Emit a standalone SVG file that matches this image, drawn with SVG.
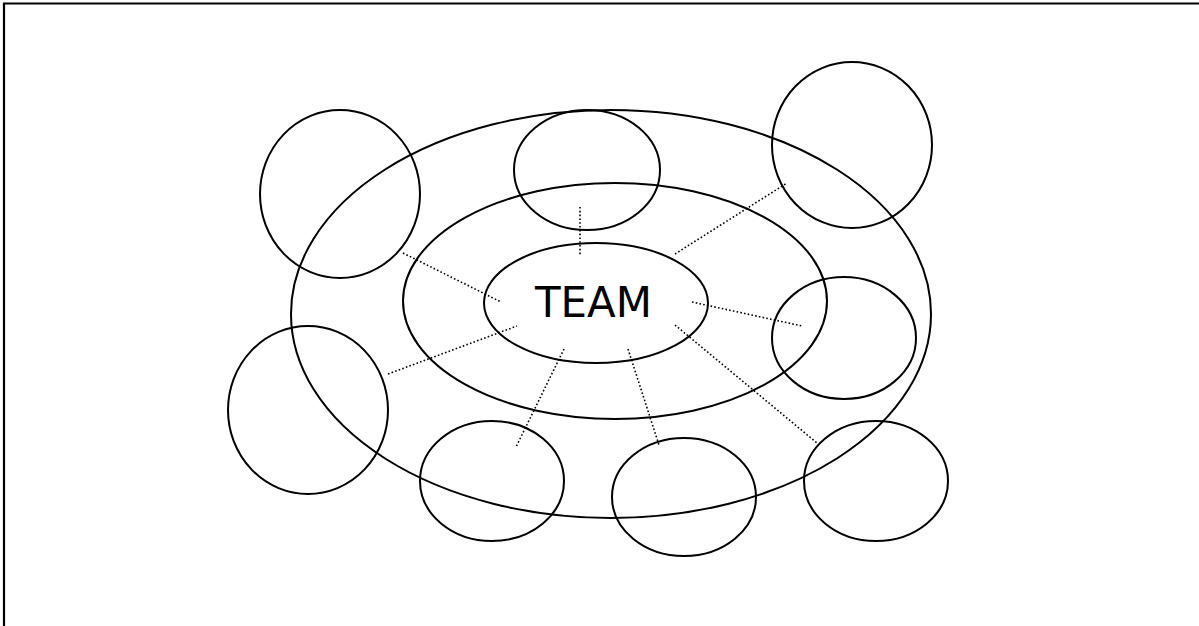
<svg xmlns="http://www.w3.org/2000/svg" width="1199" height="626" viewBox="0 0 1199 626">
<style>
.e{fill:none;stroke:#000;stroke-width:2}
.d{fill:none;stroke:#000;stroke-width:1.6;stroke-dasharray:1.6 2.2}
.t{font-family:"Comic Sans MS","DejaVu Sans",sans-serif;font-size:42px;fill:#000}
</style>
<rect width="1199" height="626" fill="#fff"/>
<path d="M4,626 V3.5 H1199" fill="none" stroke="#000" stroke-width="2.2"/>
<g id="rings">
<ellipse class="e" cx="611" cy="314" rx="320" ry="204"/>
<ellipse class="e" cx="615" cy="301" rx="212" ry="118"/>
</g>
<g id="connectors">
<line class="d" x1="580" y1="207" x2="580" y2="255"/>
<line class="d" x1="403" y1="253" x2="501" y2="302"/>
<line class="d" x1="388" y1="374" x2="517" y2="326"/>
<line class="d" x1="675" y1="254" x2="787" y2="183"/>
<line class="d" x1="692" y1="302" x2="802" y2="326"/>
<line class="d" x1="675" y1="325" x2="817" y2="443"/>
<line class="d" x1="564" y1="349" x2="516" y2="447"/>
<line class="d" x1="628" y1="349" x2="659" y2="445"/>
</g>
<g id="team">
<ellipse class="e" cx="596" cy="303" rx="112" ry="60"/>
<text class="t" x="535" y="317" textLength="117" lengthAdjust="spacingAndGlyphs">TEAM</text>
</g>
<g id="c1"><ellipse class="e" cx="340" cy="194" rx="80" ry="84"/></g>
<g id="c2"><ellipse class="e" cx="587" cy="170" rx="73" ry="60"/></g>
<g id="c3"><ellipse class="e" cx="852" cy="145" rx="80" ry="83"/></g>
<g id="c4"><ellipse class="e" cx="844" cy="338" rx="72" ry="61"/></g>
<g id="c5"><ellipse class="e" cx="308" cy="410" rx="80" ry="84"/></g>
<g id="c6"><ellipse class="e" cx="492" cy="481" rx="72" ry="60"/></g>
<g id="c7"><ellipse class="e" cx="684" cy="497" rx="72" ry="59"/></g>
<g id="c8"><ellipse class="e" cx="876" cy="481" rx="72" ry="60"/></g>
</svg>
